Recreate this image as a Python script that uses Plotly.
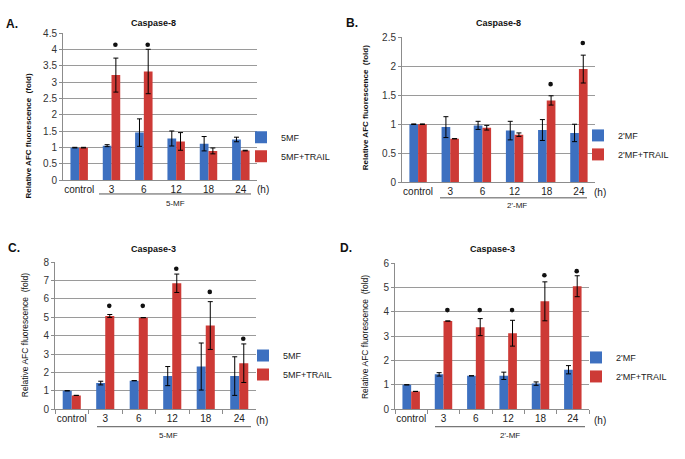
import plotly.graph_objects as go

W, H = 685, 459

cats = ["control", "3", "6", "12", "18", "24"]

# panel A - Caspase-8, 5MF
a_mf = [1.0, 1.06, 1.46, 1.28, 1.12, 1.25]
a_mf_err = [0.01, 0.03, 0.42, 0.23, 0.22, 0.07]
a_trail = [1.0, 3.22, 3.33, 1.19, 0.90, 0.91]
a_trail_err = [0.01, 0.52, 0.68, 0.27, 0.09, 0.01]
a_star = [None, 4.15, 4.15, None, None, None]

# panel B - Caspase-8, 2'MF
b_mf = [1.0, 0.95, 0.98, 0.89, 0.90, 0.85]
b_mf_err = [0.005, 0.18, 0.07, 0.16, 0.18, 0.15]
b_trail = [1.0, 0.75, 0.94, 0.82, 1.41, 1.95]
b_trail_err = [0.005, 0.0, 0.04, 0.03, 0.08, 0.24]
b_star = [None, None, None, None, 1.69, 2.40]

# panel C - Caspase-3, 5MF
c_mf = [1.0, 1.42, 1.55, 1.80, 2.32, 1.80]
c_mf_err = [0.0, 0.10, 0.0, 0.52, 1.28, 1.05]
c_trail = [0.75, 5.07, 4.98, 6.85, 4.55, 2.50]
c_trail_err = [0.0, 0.08, 0.0, 0.50, 1.30, 1.05]
c_star = [None, 5.62, 5.62, 7.64, 6.38, 3.83]

# panel D - Caspase-3, 2'MF
d_mf = [1.0, 1.43, 1.37, 1.37, 1.05, 1.62]
d_mf_err = [0.0, 0.07, 0.0, 0.15, 0.07, 0.17]
d_trail = [0.73, 3.62, 3.37, 3.12, 4.43, 5.05]
d_trail_err = [0.0, 0.0, 0.35, 0.53, 0.80, 0.43]
d_star = [None, 4.07, 4.07, 4.07, 5.50, 5.67]

BLUE = "#3d70c0"
RED = "#cd3a36"
FONT = "Liberation Sans, Arial, sans-serif"


def px(x):
    return x / W


def py(y):
    return 1 - y / H


panels = [
    dict(lab="A.", title="Caspase-8", mf=a_mf, mfe=a_mf_err, tr=a_trail, tre=a_trail_err,
         star=a_star, name="5MF", group="5-MF", ymax=4.5, dtick=0.5,
         box=(63, 257, 28, 179), bold=True, ticks=False,
         labxy=(12, 18), titxy=(153, 17), yt=(28, 134), catpy=188, hx=263,
         line=(99, 251, 193), grp=(175, 203), leg=(241, 120)),
    dict(lab="B.", title="Caspase-8", mf=b_mf, mfe=b_mf_err, tr=b_trail, tre=b_trail_err,
         star=b_star, name="2'MF", group="2'-MF", ymax=2.5, dtick=0.5,
         box=(402, 595, 32, 181), bold=True, ticks=False,
         labxy=(352, 17), titxy=(498, 17), yt=(365, 105), catpy=191, hx=600,
         line=(440, 587, 197), grp=(517, 205), leg=(578, 118)),
    dict(lab="C.", title="Caspase-3", mf=c_mf, mfe=c_mf_err, tr=c_trail, tre=c_trail_err,
         star=c_star, name="5MF", group="5-MF", ymax=8, dtick=1,
         box=(55, 256, 263, 414), bold=False, ticks=True,
         labxy=(14, 249), titxy=(153, 250), yt=(25, 338), catpy=426, hx=262,
         line=(97, 251, 432), grp=(168, 441), leg=(243, 344)),
    dict(lab="D.", title="Caspase-3", mf=d_mf, mfe=d_mf_err, tr=d_trail, tre=d_trail_err,
         star=d_star, name="2'MF", group="2'-MF", ymax=6, dtick=1,
         box=(395, 589, 264, 414), bold=False, ticks=True,
         labxy=(346, 248), titxy=(492, 250), yt=(365, 340), catpy=426, hx=600,
         line=(435, 585, 432), grp=(510, 441), leg=(576, 346)),
]

fig = go.Figure()
layout = {}
annotations = []
shapes = []

for i, p in enumerate(panels, start=1):
    sfx = "" if i == 1 else str(i)
    xa, ya = "x" + sfx, "y" + sfx
    leg = "legend" + sfx
    x0, x1, yt, yb = p["box"]

    fig.add_trace(go.Bar(
        x=cats, y=p["mf"], name=p["name"], marker_color=BLUE, marker_line_width=0,
        error_y=dict(type="data", array=p["mfe"], color="black", thickness=1, width=2.5),
        xaxis=xa, yaxis=ya, legend=leg))
    fig.add_trace(go.Bar(
        x=cats, y=p["tr"], name=p["name"] + "+TRAIL", marker_color=RED, marker_line_width=0,
        error_y=dict(type="data", array=p["tre"], color="black", thickness=1, width=2.5),
        xaxis=xa, yaxis=ya, legend=leg))

    layout["xaxis" + sfx] = dict(
        domain=[px(x0), px(x1)], anchor=ya, type="category", range=[-0.5, 5.5],
        showline=True, linecolor="#8c8c8c", linewidth=1,
        ticks="outside" if p["ticks"] else "", tickson="boundaries",
        ticklen=4, tickcolor="#8c8c8c", tickangle=0,
        tickfont=dict(family=FONT, size=10, color="#222"),
        showgrid=False)
    layout["yaxis" + sfx] = dict(
        domain=[py(yb), py(yt)], anchor=xa, range=[0, p["ymax"]], dtick=p["dtick"],
        showline=True, linecolor="#8c8c8c", linewidth=1,
        ticks="outside", ticklen=3, tickcolor="#8c8c8c",
        gridcolor="#9a9a9a", gridwidth=1,
        tickfont=dict(family=FONT, size=10, color="#333"))
    layout[leg] = dict(
        x=px(p["leg"][0]), y=py(p["leg"][1]), xanchor="left", yanchor="top",
        font=dict(family=FONT, size=9, color="#222"), bgcolor="rgba(0,0,0,0)",
        itemwidth=30, tracegroupgap=0, traceorder="normal")

    # panel label and title
    annotations.append(dict(text="<b>" + p["lab"] + "</b>", x=px(p["labxy"][0]), y=py(p["labxy"][1]),
                            xref="paper", yref="paper", showarrow=False,
                            xanchor="center", yanchor="middle",
                            font=dict(family=FONT, size=12, color="#111")))
    annotations.append(dict(text="<b>" + p["title"] + "</b>", x=px(p["titxy"][0]), y=py(p["titxy"][1]),
                            xref="paper", yref="paper", showarrow=False,
                            xanchor="center", yanchor="middle",
                            font=dict(family=FONT, size=9, color="#111")))
    ytitle = "Relative AFC fluorescence  (fold)"
    if p["bold"]:
        ytitle = "<b>" + ytitle + "</b>"
    annotations.append(dict(text=ytitle, x=px(p["yt"][0]), y=py(p["yt"][1]),
                            xref="paper", yref="paper", showarrow=False, textangle=-90,
                            xanchor="center", yanchor="middle",
                            font=dict(family=FONT, size=8 if p["bold"] else 8.5, color="#111")))
    annotations.append(dict(text="(h)", x=px(p["hx"]), y=py(p["catpy"]),
                            xref="paper", yref="paper", showarrow=False,
                            xanchor="center", yanchor="middle",
                            font=dict(family=FONT, size=10, color="#222")))
    annotations.append(dict(text=p["group"], x=px(p["grp"][0]), y=py(p["grp"][1]),
                            xref="paper", yref="paper", showarrow=False,
                            xanchor="center", yanchor="middle",
                            font=dict(family=FONT, size=8, color="#222")))
    lx0, lx1, ly = p["line"]
    shapes.append(dict(type="line", xref="paper", yref="paper",
                       x0=px(lx0), x1=px(lx1), y0=py(ly), y1=py(ly),
                       line=dict(color="#555", width=1)))

    # significance dots over the TRAIL bars (x anchored on category index)
    for k, s in enumerate(p["star"]):
        if s is None:
            continue
        shapes.append(dict(type="circle", xref=xa, yref=ya,
                           xsizemode="pixel", ysizemode="pixel",
                           xanchor=k + 0.12, yanchor=s,
                           x0=-2.3, x1=2.3, y0=-2.3, y1=2.3,
                           fillcolor="#111", line=dict(width=0)))

fig.update_layout(
    width=W, height=H,
    margin=dict(l=0, r=0, t=0, b=0),
    paper_bgcolor="white", plot_bgcolor="white",
    barmode="group", bargap=0.46, bargroupgap=0,
    annotations=annotations, shapes=shapes,
    **layout)

# drop the browser's default 8px body margin so the figure sits at 0,0
fig.write_html("out.html", config={"displayModeBar": False},
               post_script="document.body.style.margin='0';")
